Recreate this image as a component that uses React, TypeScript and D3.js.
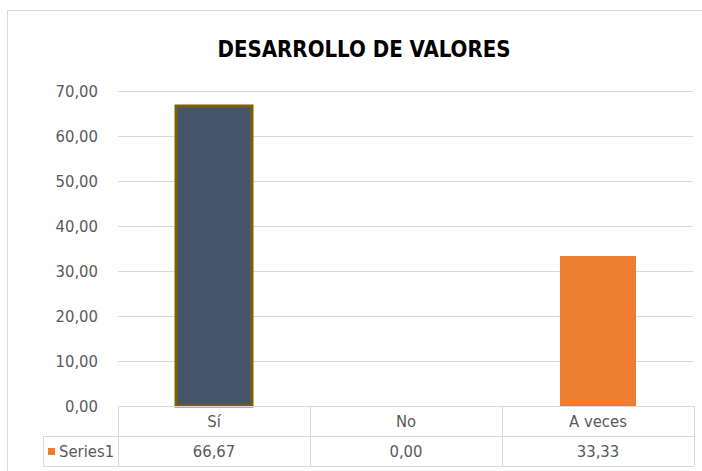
import React, { useEffect, useRef } from 'react';
import * as d3 from 'd3';

const categories = ['Sí', 'No', 'A veces'];
const values = [66.67, 0, 33.33];
const seriesName = 'Series1';
const yTicks = [0, 10, 20, 30, 40, 50, 60, 70];
const title = 'DESARROLLO DE VALORES';

const fmt = (v: number) => v.toFixed(2).replace('.', ',');

export default function App() {
  const ref = useRef<SVGSVGElement>(null);

  useEffect(() => {
    const width = 702;
    const height = 471;
    const left = 118;
    const right = 694;
    const top = 91;
    const bottom = 406;
    const rowH = 30;
    const font = "'Liberation Sans Narrow', 'DejaVu Sans Condensed', sans-serif";

    const svg = d3.select(ref.current);
    svg.selectAll('*').remove();
    svg.attr('width', width).attr('height', height);

    svg.append('rect').attr('width', width).attr('height', height).attr('fill', '#fff');
    // outer chart border
    svg.append('rect')
      .attr('x', 7.5).attr('y', 10.5)
      .attr('width', 720).attr('height', 480)
      .attr('fill', 'none').attr('stroke', '#d9d9d9');

    svg.append('text')
      .text(title)
      .attr('x', 364).attr('y', 57)
      .attr('text-anchor', 'middle')
      .attr('font-family', font)
      .attr('font-weight', 'bold')
      .attr('font-size', 23)
      .attr('textLength', 293)
      .attr('lengthAdjust', 'spacingAndGlyphs')
      .attr('fill', '#000');

    let x = d3.scaleBand().domain(categories).range([left, right]).paddingInner(0).paddingOuter(0);
    let y = d3.scaleLinear().domain([0, 70]).range([bottom, top]);

    // grid
    svg.append('g').selectAll('line').data(yTicks.filter(d => d > 0)).enter().append('line')
      .attr('x1', left).attr('x2', right - 1)
      .attr('y1', d => Math.round(y(d)) + 0.5).attr('y2', d => Math.round(y(d)) + 0.5)
      .attr('stroke', '#d9d9d9');

    svg.append('g').selectAll('text').data(yTicks).enter().append('text')
      .text(d => fmt(d))
      .attr('x', 98).attr('y', d => y(d) + 6)
      .attr('text-anchor', 'end')
      .attr('font-family', font)
      .attr('font-size', 16.5)
      .attr('fill', '#595959');

    // bars
    const bw = 76;
    const colors = ['#44546a', '#44546a', '#ed7d31'];
    svg.append('g').selectAll('rect').data(values).enter().append('rect')
      .attr('x', (d, i) => (x(categories[i]) as number) + x.bandwidth() / 2 - bw / 2)
      .attr('y', d => y(d))
      .attr('width', bw)
      .attr('height', d => bottom - y(d))
      .attr('fill', (d, i) => colors[i])
      .attr('stroke', (d, i) => (i === 0 ? '#7f6000' : 'none'))
      .attr('stroke-width', 3)
      .style('display', d => (d > 0 ? null : 'none'));

    // data table
    const tbl = svg.append('g').attr('stroke', '#d9d9d9').attr('fill', 'none');
    tbl.append('line').attr('x1', left).attr('x2', right).attr('y1', bottom + 0.5).attr('y2', bottom + 0.5);
    tbl.append('line').attr('x1', 43).attr('x2', right).attr('y1', bottom + rowH + 0.5).attr('y2', bottom + rowH + 0.5);
    tbl.append('line').attr('x1', 43).attr('x2', right).attr('y1', bottom + 2 * rowH + 0.5).attr('y2', bottom + 2 * rowH + 0.5);
    tbl.append('line').attr('x1', 43.5).attr('x2', 43.5).attr('y1', bottom + rowH).attr('y2', bottom + 2 * rowH);
    const bounds = categories.map(c => x(c) as number).concat([right]);
    tbl.selectAll('line.v').data(bounds).enter().append('line')
      .attr('class', 'v')
      .attr('x1', d => Math.round(d) + 0.5).attr('x2', d => Math.round(d) + 0.5)
      .attr('y1', bottom).attr('y2', bottom + 2 * rowH);

    svg.append('g').selectAll('text').data(categories).enter().append('text')
      .text(d => d)
      .attr('x', d => (x(d) as number) + x.bandwidth() / 2)
      .attr('y', bottom + 21)
      .attr('text-anchor', 'middle')
      .attr('font-family', font)
      .attr('font-size', 16.5)
      .attr('fill', '#595959');

    svg.append('g').selectAll('text').data(values).enter().append('text')
      .text(d => fmt(d))
      .attr('x', (d, i) => (x(categories[i]) as number) + x.bandwidth() / 2)
      .attr('y', bottom + rowH + 21)
      .attr('text-anchor', 'middle')
      .attr('font-family', font)
      .attr('font-size', 16.5)
      .attr('fill', '#595959');

    svg.append('rect')
      .attr('x', 48).attr('y', bottom + rowH + 12)
      .attr('width', 7).attr('height', 7)
      .attr('fill', '#ed7d31');
    svg.append('text')
      .text(seriesName)
      .attr('x', 59).attr('y', bottom + rowH + 21)
      .attr('font-family', font)
      .attr('font-size', 16.5)
      .attr('fill', '#595959');
  }, []);

  return (
    <svg ref={ref} style={{ position: 'absolute', left: 0, top: 0, display: 'block' }} />
  );
}
